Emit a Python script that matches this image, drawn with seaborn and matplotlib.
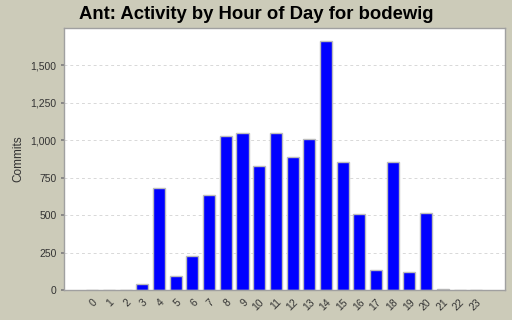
import matplotlib
matplotlib.use("Agg")
import matplotlib.pyplot as plt
import seaborn as sns
import pandas as pd
from matplotlib.ticker import FuncFormatter, MultipleLocator

hours = [str(h) for h in range(24)]
commits = [0, 0, 0, 40, 680, 93, 227, 633, 1025, 1045, 827, 1050, 890, 1005,
           1657, 853, 507, 133, 853, 120, 513, 5, 0, 0]
title = "Ant: Activity by Hour of Day for bodewig"
ylabel = "Commits"

df = pd.DataFrame({"hour": hours, "commits": commits})

sns.set_theme(style="white")
plt.rcParams['font.family'] = ['Liberation Sans', 'DejaVu Sans']
bg = "#cccbb9"
fig = plt.figure(figsize=(5.12, 3.2), dpi=100, facecolor=bg)
ax = fig.add_axes([64/512, 30/320, 441/512, 262/320])
ax.set_facecolor("white")

sns.barplot(data=df, x="hour", y="commits", order=hours, color="#0000ff",
            saturation=1, width=0.72, edgecolor="#bcbcbc", linewidth=1.0, ax=ax)

ax.set_xlim(-1.69, 24.72)
ax.set_ylim(0, 1747)
ax.yaxis.set_major_locator(MultipleLocator(250))
ax.yaxis.set_major_formatter(FuncFormatter(lambda v, p: f"{int(v):,}"))
ax.grid(axis="y", color="#d8d8d8", linestyle=(0, (3, 3)), linewidth=0.7)
ax.set_axisbelow(True)

for s in ax.spines.values():
    s.set_color("#a0a0a0")
    s.set_linewidth(1.0)

ax.tick_params(axis="y", labelsize=7.5, colors="#333333", length=2,
               direction="out", left=True, color="#808080")
ax.tick_params(axis="x", labelsize=7.5, colors="#333333", length=0,
               pad=5, bottom=False)
plt.setp(ax.get_xticklabels(), rotation=45, ha="right", rotation_mode="anchor")
ax.set_xlabel("")
ax.set_ylabel(ylabel, fontsize=8.5, color="#333333", labelpad=4)
fig.text(0.5, 0.955, title, ha="center", va="center", fontsize=13.3,
         fontweight="bold", color="black")

fig.savefig("out.png", dpi=100, facecolor=bg)
